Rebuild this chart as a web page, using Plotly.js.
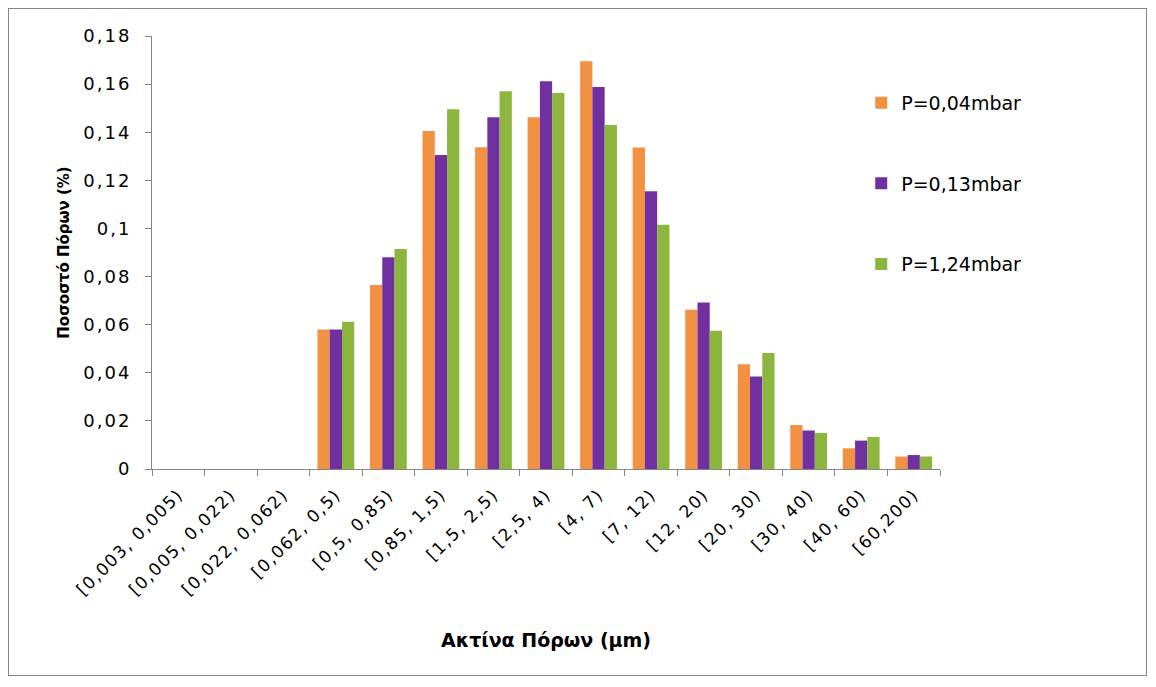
<!DOCTYPE html>
<html>
<head>
<meta charset="utf-8">
<script src="https://cdn.plot.ly/plotly-3.0.1.min.js"></script>
<style>
  html, body { margin: 0; padding: 0; background: #fff; }
  #frame { position: absolute; left: 8px; top: 8px; width: 1139px; height: 668px; border: 1px solid #868686; box-sizing: border-box; pointer-events: none; z-index: 5; }
  #chart { position: absolute; left: 0; top: 0; width: 1156px; height: 687px; }
  #chart .xtick text { letter-spacing: 1.5px; }
  #chart .ytick text { letter-spacing: 2px; }
</style>
</head>
<body>
<div id="chart"></div>
<div id="frame"></div>
<script>
const categories = ['[0,003, 0,005)', '[0,005, 0,022)', '[0,022, 0,062)', '[0,062, 0,5)', '[0,5, 0,85)', '[0,85, 1,5)', '[1,5, 2,5)', '[2,5, 4)', '[4, 7)', '[7, 12)', '[12, 20)', '[20, 30)', '[30, 40)', '[40, 60)', '[60,200)'];
const seriesNames = ['P=0,04mbar', 'P=0,13mbar', 'P=1,24mbar'];
const p004 = [0, 0, 0, 0.058, 0.0765, 0.1405, 0.1338, 0.1462, 0.1695, 0.1336, 0.0662, 0.0435, 0.0183, 0.0086, 0.0052];
const p013 = [0, 0, 0, 0.058, 0.088, 0.1305, 0.1462, 0.1612, 0.1588, 0.1155, 0.0692, 0.0385, 0.016, 0.0118, 0.0058];
const p124 = [0, 0, 0, 0.0612, 0.0915, 0.1495, 0.157, 0.1563, 0.143, 0.1015, 0.0575, 0.0482, 0.015, 0.0133, 0.0052];
const yTickVals = [0, 0.02, 0.04, 0.06, 0.08, 0.1, 0.12, 0.14, 0.16, 0.18];
const yTickText = ['0', '0,02', '0,04', '0,06', '0,08', '0,1', '0,12', '0,14', '0,16', '0,18'];

const fontFam = '"DejaVu Sans", "Open Sans", sans-serif';
const colors = ['#F39143', '#7030A0', '#8DB63F'];
const data = [p004, p013, p124].map((vals, i) => ({
  type: 'bar',
  x: categories,
  y: vals,
  name: seriesNames[i],
  legendgroup: 'g' + i,
  marker: { color: colors[i], line: { width: 0 } },
  hoverinfo: 'x+y+name'
}));

const layout = {
  width: 1156,
  height: 687,
  paper_bgcolor: '#fff',
  plot_bgcolor: '#fff',
  margin: { l: 152, r: 216, t: 36, b: 218, autoexpand: false },
  separators: ',.',
  barmode: 'group',
  bargap: 0.3,
  bargroupgap: 0,
  font: { family: fontFam, size: 18, color: '#000' },
  showlegend: true,
  legend: {
    xref: 'container', yref: 'container',
    x: 0.745, y: 0.878, xanchor: 'left', yanchor: 'top',
    font: { family: fontFam, size: 19, color: '#000' },
    tracegroupgap: 53,
    itemwidth: 30,
    bgcolor: 'rgba(0,0,0,0)'
  },
  xaxis: {
    type: 'category',
    showline: true, linecolor: '#868686', linewidth: 1,
    ticks: 'outside', ticklen: 6, tickcolor: '#868686', tickson: 'boundaries',
    tickangle: -45, ticklabelstandoff: 8,
    tickfont: { family: fontFam, size: 17, color: '#000' },
    showgrid: false, zeroline: false, automargin: false,
    title: { text: '<b>Ακτίνα Πόρων (μm)</b>', font: { family: fontFam, size: 19, color: '#000' }, standoff: 50 }
  },
  yaxis: {
    range: [0, 0.18],
    tickvals: yTickVals, ticktext: yTickText,
    showline: true, linecolor: '#868686', linewidth: 1,
    ticks: 'outside', ticklen: 6, tickcolor: '#868686', ticklabelstandoff: 10,
    tickfont: { family: fontFam, size: 18, color: '#000' },
    showgrid: false, zeroline: false, automargin: false,
    title: { text: '<b>Ποσοστό Πόρων (%)</b>', font: { family: fontFam, size: 15, color: '#000' }, standoff: 18 }
  }
};

Plotly.newPlot('chart', data, layout, { displayModeBar: false, staticPlot: true });
</script>
</body>
</html>
